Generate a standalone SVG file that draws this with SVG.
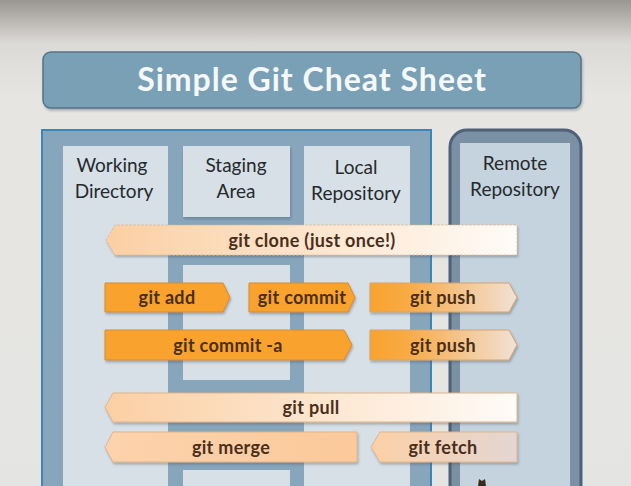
<svg xmlns="http://www.w3.org/2000/svg" width="631" height="486" viewBox="0 0 631 486">
<defs>
<linearGradient id="bg" x1="0" y1="0" x2="0" y2="1">
<stop offset="0" stop-color="#9a9692"/>
<stop offset="0.09" stop-color="#dcdad7"/>
<stop offset="0.2" stop-color="#e6e5e2"/>
<stop offset="1" stop-color="#e4e4e2"/>
</linearGradient>
<linearGradient id="peach" x1="0" y1="0" x2="1" y2="0">
<stop offset="0" stop-color="#fbcfa3"/>
<stop offset="1" stop-color="#fffbf7"/>
</linearGradient>
<linearGradient id="pushg" x1="0" y1="0" x2="1" y2="0">
<stop offset="0" stop-color="#f9a32e"/>
<stop offset="0.25" stop-color="#f8aa45"/>
<stop offset="1" stop-color="#f1e1d6"/>
</linearGradient>
<linearGradient id="fetchg" x1="0" y1="0" x2="1" y2="0">
<stop offset="0" stop-color="#fcd0a6"/>
<stop offset="1" stop-color="#e3d6d2"/>
</linearGradient>
<linearGradient id="mergeg" x1="0" y1="0" x2="1" y2="0">
<stop offset="0" stop-color="#fcd3ad"/>
<stop offset="1" stop-color="#fbc99a"/>
</linearGradient>
<filter id="sh" x="-10%" y="-20%" width="120%" height="150%">
<feDropShadow dx="1" dy="2" stdDeviation="1.2" flood-color="#3a4a5a" flood-opacity="0.35"/>
</filter>
</defs>
<style>
.lbl{font-family:Lato,"Open Sans","Liberation Sans",sans-serif;font-size:19px;fill:#26292c;text-anchor:middle}
.cmd{font-family:Lato,"Open Sans","Liberation Sans",sans-serif;font-size:18px;font-weight:bold;letter-spacing:0.3px;fill:#4a2f1c;text-anchor:middle}
.orange{fill:#f9a32e;stroke:#d98a2a;stroke-width:1}
.light{stroke:#e0b58c;stroke-width:1}
.col{fill:#d6e0e6}
</style>
<rect x="0" y="0" width="631" height="486" fill="url(#bg)"/>

<g id="title">
<rect x="43" y="52" width="538" height="56" rx="8" fill="#7aa0b5" stroke="#56738a" stroke-width="1.5" filter="url(#sh)"/>
<text x="312" y="91" font-family="Lato,'Open Sans','Liberation Sans',sans-serif" font-size="32" font-weight="bold" letter-spacing="1" fill="#f4f8fa" text-anchor="middle">Simple Git Cheat Sheet</text>
</g>

<g id="local-box">
<rect x="42" y="130" width="389" height="370" fill="#87a5bb" stroke="#3a86b8" stroke-width="2"/>
</g>

<g id="working-directory">
<rect class="col" x="63" y="146" width="105" height="350"/>
<text class="lbl" x="112" y="172">Working</text>
<text class="lbl" x="114" y="198">Directory</text>
</g>

<g id="staging-area">
<rect class="col" x="183" y="146" width="107" height="71" filter="url(#sh)"/>
<rect class="col" x="183" y="265" width="107" height="115"/>
<rect class="col" x="183" y="470" width="107" height="30"/>
<text class="lbl" x="236" y="172">Staging</text>
<text class="lbl" x="236" y="198">Area</text>
</g>

<g id="local-repository">
<rect class="col" x="304" y="146" width="106" height="350"/>
<text class="lbl" x="356" y="174">Local</text>
<text class="lbl" x="356" y="200">Repository</text>
</g>

<g id="remote-repository">
<rect x="450" y="130" width="131" height="380" rx="17" fill="#7a91a5" stroke="#4d6178" stroke-width="3"/>
<rect x="460" y="143" width="110" height="350" fill="#c4d3dd"/>
<text class="lbl" x="515" y="170">Remote</text>
<text class="lbl" x="515" y="196">Repository</text>
<path d="M478 486 L479 479 L482 481 L485 479 L486 486 Z" fill="#3a2a1e"/>
</g>

<g id="connectors">
<g id="git-clone">
<polygon points="106,240 115,225 517,225 517,255 115,255" fill="url(#peach)" stroke="#e0b58c" stroke-width="1" stroke-dasharray="2,2" filter="url(#sh)"/>
<text class="cmd" x="312" y="247">git clone (just once!)</text>
</g>
<g id="git-add">
<polygon class="orange" points="105,283 223,283 230,297.5 223,312 105,312" filter="url(#sh)"/>
<text class="cmd" x="167" y="304">git add</text>
</g>
<g id="git-commit">
<polygon class="orange" points="249,283 348,283 355,297.5 348,312 249,312" filter="url(#sh)"/>
<text class="cmd" x="302" y="304">git commit</text>
</g>
<g id="git-push-1">
<polygon points="370,283 509,283 517,297.5 509,312 370,312" fill="url(#pushg)" stroke="#d9a36a" stroke-width="1" filter="url(#sh)"/>
<text class="cmd" x="443" y="304">git push</text>
</g>
<g id="git-commit-a">
<polygon class="orange" points="105,330 344,330 352,345 344,360 105,360" filter="url(#sh)"/>
<text class="cmd" x="228" y="352">git commit -a</text>
</g>
<g id="git-push-2">
<polygon points="370,330 509,330 517,345 509,360 370,360" fill="url(#pushg)" stroke="#d9a36a" stroke-width="1" filter="url(#sh)"/>
<text class="cmd" x="443" y="352">git push</text>
</g>
<g id="git-pull">
<polygon class="light" points="105,407 113,393 517,393 517,422 113,422" fill="url(#peach)" filter="url(#sh)"/>
<text class="cmd" x="311" y="414">git pull</text>
</g>
<g id="git-merge">
<polygon class="light" points="105,447 113,432 357,432 357,462 113,462" fill="url(#mergeg)" filter="url(#sh)"/>
<text class="cmd" x="231" y="454">git merge</text>
</g>
<g id="git-fetch">
<polygon class="light" points="371,447 380,432 517,432 517,462 380,462" fill="url(#fetchg)" filter="url(#sh)"/>
<text class="cmd" x="443" y="454">git fetch</text>
</g>
</g>
</svg>
